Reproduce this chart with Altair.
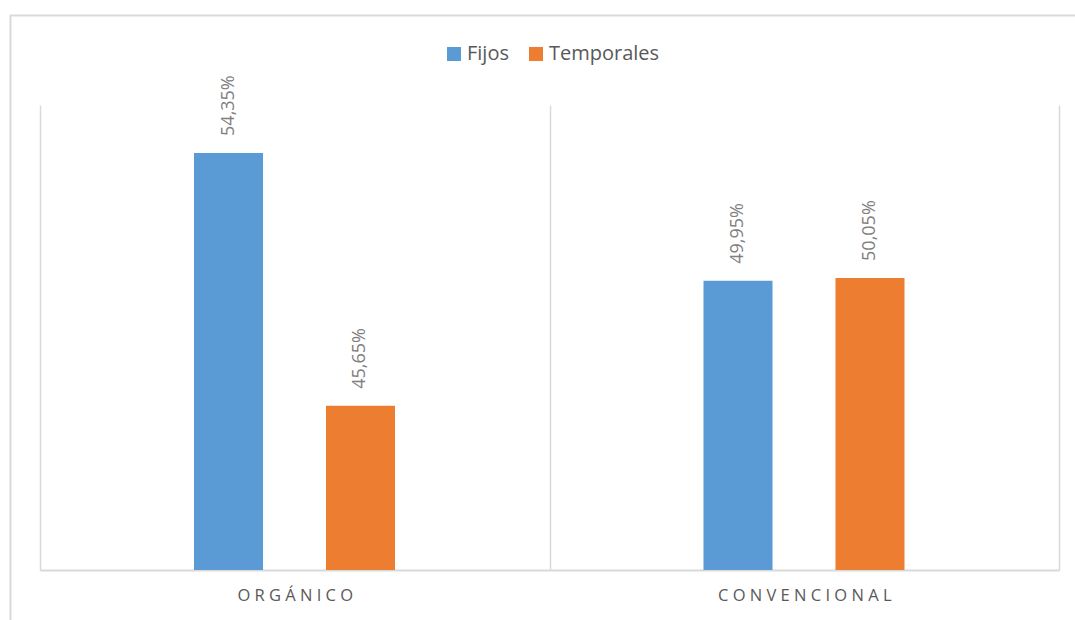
import altair as alt
import pandas as pd

# Datos: porcentaje de trabajadores fijos y temporales por tipo de explotación
sectores = ["ORGÁNICO", "ORGÁNICO", "CONVENCIONAL", "CONVENCIONAL"]
contratos = ["Fijos", "Temporales", "Fijos", "Temporales"]
porcentajes = [54.35, 45.65, 49.95, 50.05]
etiquetas = ["54,35%", "45,65%", "49,95%", "50,05%"]

orden_sector = ["ORGÁNICO", "CONVENCIONAL"]
orden_contrato = ["Fijos", "Temporales"]
colores = ["#5b9bd5", "#ed7d31"]

df = pd.DataFrame({
    "sector": sectores,
    "contrato": contratos,
    "pct": porcentajes,
    "etiqueta": etiquetas,
})

FUENTE = "Open Sans"
GRIS_LINEA = "#d9d9d9"

eje_x = alt.X(
    "sector:N",
    sort=orden_sector,
    scale=alt.Scale(paddingInner=0, paddingOuter=0),
    axis=alt.Axis(
        title=None,
        labelAngle=0,
        ticks=False,
        tickSize=0,
        tickBand="extent",
        grid=True,
        gridColor=GRIS_LINEA,
        gridWidth=1.5,
        domainColor=GRIS_LINEA,
        domainWidth=2,
        labelFont=FUENTE,
        labelFontSize=16.5,
        labelColor="#595959",
        labelPadding=17,
        labelExpr="join(split(datum.label, ''), ' ')",
    ),
)

# Posición de cada barra dentro de su grupo
desplaz = alt.XOffset(
    "contrato:N",
    sort=orden_contrato,
    scale=alt.Scale(range=[154, 355], paddingInner=0.477, paddingOuter=0),
)

eje_y = alt.Y("pct:Q", scale=alt.Scale(domain=[40, 56]), axis=None)

base = alt.Chart(df)

barras = base.mark_bar().encode(
    x=eje_x,
    xOffset=desplaz,
    y=eje_y,
    y2=alt.datum(40),
    color=alt.Color(
        "contrato:N",
        sort=orden_contrato,
        scale=alt.Scale(domain=orden_contrato, range=colores),
        legend=alt.Legend(
            title=None,
            orient="none",
            legendX=404,
            legendY=-61,
            direction="horizontal",
            symbolType="square",
            symbolSize=196,
            symbolStrokeWidth=0,
            labelFont=FUENTE,
            labelFontSize=20,
            labelColor="#595959",
            labelOffset=3,
            columnPadding=17,
            padding=0,
        ),
    ),
)

rotulos = base.mark_text(
    angle=270,
    align="left",
    baseline="middle",
    dx=17,
    font=FUENTE,
    fontSize=18,
    color="#808080",
).encode(
    x=eje_x,
    xOffset=desplaz,
    y=eje_y,
    text="etiqueta:N",
)

# Marco del área del gráfico
marco = alt.Chart(pd.DataFrame({"m": [0]})).mark_rect(
    filled=False, stroke=GRIS_LINEA, strokeWidth=2
).encode(
    x=alt.value(-29.5),
    x2=alt.value(1070),
    y=alt.value(-89.5),
    y2=alt.value(540),
)

chart = alt.layer(marco, barras, rotulos).properties(
    width=1019,
    height=465,
    autosize=alt.AutoSizeParams(type="none"),
    padding={"left": 40, "top": 105, "right": 16, "bottom": 50},
    background="white",
).configure_view(stroke=None)

chart.save("out.html", embed_options={"renderer": "svg", "actions": False})
